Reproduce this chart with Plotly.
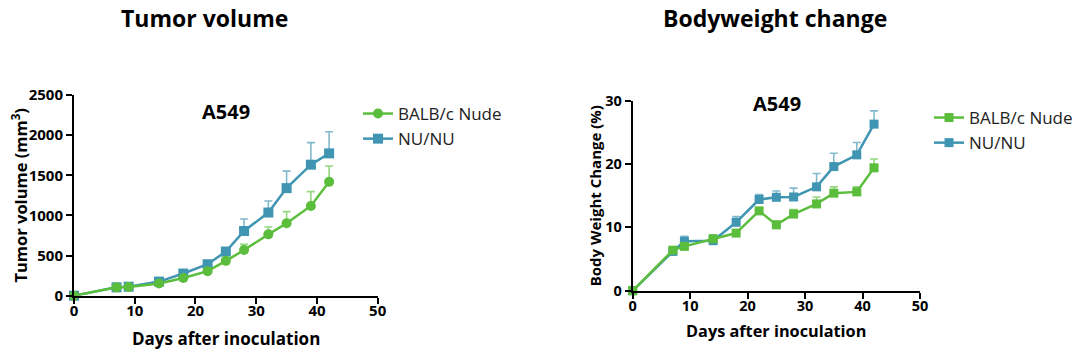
import plotly.graph_objects as go

days = [0, 7, 9, 14, 18, 22, 25, 28, 32, 35, 39, 42]

tv_balb = [0, 104, 108, 152, 220, 306, 434, 569, 764, 902, 1118, 1418]
tv_balb_err = [0, 8, 8, 12, 15, 20, 22, 70, 92, 145, 178, 198]
tv_nunu = [0, 104, 112, 176, 276, 392, 550, 806, 1036, 1340, 1632, 1773]
tv_nunu_err = [0, 8, 10, 14, 18, 22, 28, 150, 143, 212, 275, 270]

bw_balb = [0, 6.4, 7.0, 8.2, 9.1, 12.6, 10.4, 12.1, 13.7, 15.4, 15.6, 19.4]
bw_balb_err = [0, 0.3, 0.3, 0.5, 0.4, 0.5, 0.6, 0.7, 1.1, 1.0, 0.8, 1.4]
bw_nunu = [0, 6.2, 7.8, 7.9, 10.8, 14.4, 14.75, 14.8, 16.4, 19.6, 21.45, 26.3]
bw_nunu_err = [0, 0.3, 0.8, 0.9, 0.9, 0.8, 1.0, 1.4, 2.1, 2.1, 1.95, 2.1]

groups = ["BALB/c Nude", "NU/NU"]
x_ticks = [0, 10, 20, 30, 40, 50]
tv_ticks = [0, 500, 1000, 1500, 2000, 2500]
bw_ticks = [0, 10, 20, 30]
x_title = "Days after inoculation"

GREEN = "#5bbd3c"
GREEN_ERR = "#93d77d"
BLUE = "#4095b2"
BLUE_ERR = "#82b9cc"
FONT = "Open Sans"

# page body has an 8px margin; figure sized to fill the remaining window
OFF = 8
W, H = 1080 - OFF, 357 - OFF


def px(p):
    return (p - OFF) / W


def py(p):
    return 1 - (p - OFF) / H


fig = go.Figure()


def add(x, y, err, name, color, ecolor, symbol, size, xa, ya, legend, rank):
    fig.add_trace(go.Scatter(
        x=x, y=y, name=name, mode="lines+markers",
        line=dict(color=color, width=2.5),
        marker=dict(color=color, symbol=symbol, size=size),
        error_y=dict(type="data", array=err, arrayminus=[0] * len(err), symmetric=False,
                     color=ecolor, thickness=1.6, width=4),
        xaxis=xa, yaxis=ya, legend=legend, legendrank=rank, cliponaxis=False,
    ))


add(days, tv_nunu, tv_nunu_err, groups[1], BLUE, BLUE_ERR, "square", 10, "x", "y", "legend", 2)
add(days, tv_balb, tv_balb_err, groups[0], GREEN, GREEN_ERR, "circle", 10, "x", "y", "legend", 1)
add(days, bw_nunu, bw_nunu_err, groups[1], BLUE, BLUE_ERR, "square", 9, "x2", "y2", "legend2", 2)
add(days, bw_balb, bw_balb_err, groups[0], GREEN, GREEN_ERR, "square", 9, "x2", "y2", "legend2", 1)


def axis(size, **kw):
    d = dict(
        showline=True, linewidth=2, linecolor="black", ticks="outside", ticklen=6,
        tickwidth=2, tickcolor="black", showgrid=False, zeroline=False, automargin=False,
        tickfont=dict(family=FONT, size=size, color="black", weight="bold"),
    )
    d.update(kw)
    return d


def tfont(size):
    return dict(family=FONT, size=size, color="black", weight="bold")


def note(text, x, y, size):
    return dict(text=text, x=px(x), y=py(y), xref="paper", yref="paper",
                xanchor="center", yanchor="middle", showarrow=False, font=tfont(size))


fig.update_layout(
    width=W, height=H, margin=dict(l=0, r=0, t=0, b=0, autoexpand=False),
    paper_bgcolor="white", plot_bgcolor="white",
    font=dict(family=FONT, color="black"),
    xaxis=axis(15, domain=[px(74), px(377.7)], range=[0, 50], tickvals=x_ticks, anchor="y",
               ticklabelstandoff=-6),
    yaxis=axis(15, domain=[py(295.7), py(95)], range=[0, 2500], tickvals=tv_ticks, anchor="x",
               title=dict(text="Tumor volume (mm<sup>3</sup>)", font=tfont(16.5), standoff=0)),
    xaxis2=axis(14.5, domain=[px(632.7), px(920)], range=[0, 50], tickvals=x_ticks, anchor="y2",
                ticklabelstandoff=-5),
    yaxis2=axis(14.5, domain=[py(290.7), py(100.7)], range=[0, 30], tickvals=bw_ticks, anchor="x2",
                title=dict(text="Body Weight Change (%)", font=tfont(15), standoff=0)),
    legend=dict(x=px(358), y=py(96), xanchor="left", yanchor="top", itemwidth=30,
                font=dict(family=FONT, size=17, color="#222"), bgcolor="rgba(0,0,0,0)"),
    legend2=dict(x=px(929), y=py(100), xanchor="left", yanchor="top", itemwidth=30,
                 font=dict(family=FONT, size=17, color="#222"), bgcolor="rgba(0,0,0,0)"),
    showlegend=True,
    annotations=[
        note("Tumor volume", 204, 18, 23),
        note("Bodyweight change", 775, 18, 23),
        note("A549", 226, 111, 20),
        note("A549", 777, 103, 20),
        note(x_title, 226, 338, 17),
        note(x_title, 776, 331, 16.3),
    ],
)

fig.write_html("out.html")
